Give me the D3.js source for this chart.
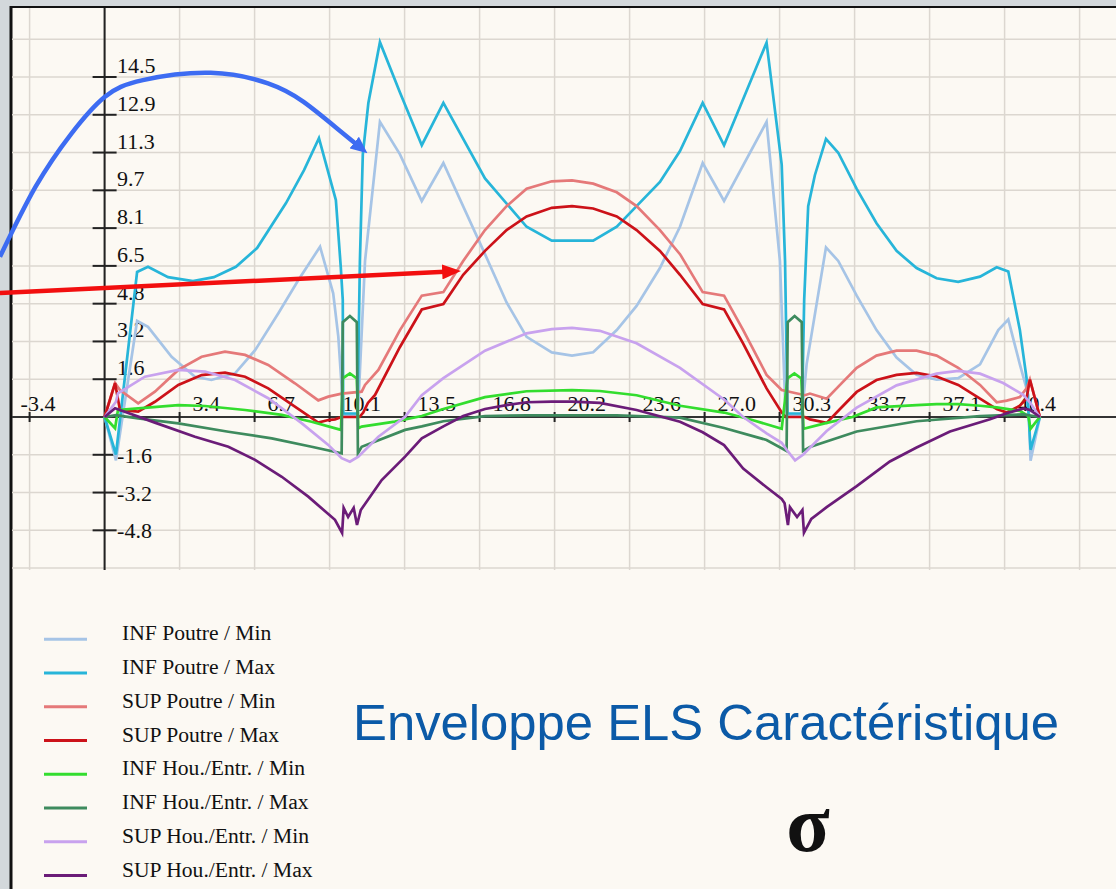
<!DOCTYPE html>
<html>
<head>
<meta charset="utf-8">
<script src="https://cdn.jsdelivr.net/npm/d3@7"></script>
<style>
  body { margin: 0; background: #d3d8db; }
  svg { display: block; }
  .tickText { font-family: "Liberation Serif", "Times New Roman", serif; font-size: 22px; fill: #111; }
  .legendText { font-family: "Liberation Serif", "Times New Roman", serif; font-size: 21.6px; fill: #111; }
</style>
</head>
<body>
<svg id="chart" width="1116" height="889"></svg>
<script>
// Axis ticks
var xTickValues = [-3.3695, 3.3695, 6.739, 10.1085, 13.478, 16.8475, 20.217, 23.5865, 26.956, 30.3255, 33.695, 37.0645, 40.434];
var xTickLabels = ["-3.4", "3.4", "6.7", "10.1", "13.5", "16.8", "20.2", "23.6", "27.0", "30.3", "33.7", "37.1", "40.4"];
var yTickValues = [14.5125, 12.9, 11.2875, 9.675, 8.0625, 6.45, 4.8375, 3.225, 1.6125, -1.6125, -3.225, -4.8375];
var yTickLabels = ["14.5", "12.9", "11.3", "9.7", "8.1", "6.5", "4.8", "3.2", "1.6", "-1.6", "-3.2", "-4.8"];

// Series (x, sigma)
var infPoutreMin = [[0,0],[0.51,-1.85],[1.46,4.1],[1.95,3.85],[3.01,2.57],[4.06,1.72],[4.8,1.58],[5.86,1.86],[6.76,2.85],[7.8,4.42],[8.7,5.84],[9.68,7.27],[10.27,5.28],[10.5,3.43],[10.65,1.29],[10.71,0.1],[11.38,0.1],[11.7,6.66],[12.37,12.6],[13.27,11.21],[14.25,9.22],[15.22,10.84],[17.09,6.95],[18.06,4.89],[18.96,3.42],[20.09,2.76],[21.0,2.62],[21.95,2.76],[23.01,3.71],[23.9,4.74],[24.95,6.36],[25.85,8.12],[26.87,10.84],[27.83,9.22],[29.74,12.6],[30.34,6.66],[30.57,0.78],[30.66,0.1],[31.33,0.1],[31.54,2.26],[32.41,7.24],[32.96,6.66],[33.79,5.18],[34.68,3.71],[35.58,2.54],[36.48,1.8],[37.38,1.59],[38.35,1.66],[39.33,2.25],[40.15,3.71],[40.6,4.16],[41.12,2.25],[41.5,0.93],[41.6,-1.87],[42.02,0]];
var infPoutreMax = [[0,0],[0.51,-1.6],[1.46,6.19],[1.95,6.41],[2.85,5.97],[3.97,5.8],[4.91,5.97],[5.9,6.41],[6.85,7.21],[8.15,9.13],[8.96,10.54],[9.63,11.9],[10.39,9.26],[10.61,6.41],[10.7,5.0],[10.72,0.15],[11.36,0.15],[11.47,6.66],[11.6,11.2],[11.85,13.4],[12.37,16.0],[13.27,13.85],[14.25,11.6],[15.22,13.41],[17.09,10.18],[18.96,8.12],[20.09,7.53],[21.0,7.53],[21.95,7.53],[23.01,8.12],[23.9,9.0],[24.95,10.03],[25.85,11.35],[26.87,13.41],[27.83,11.6],[29.74,15.98],[30.42,10.77],[30.57,6.66],[30.68,0.15],[31.33,0.15],[31.43,5.0],[31.61,9.0],[31.91,10.32],[32.41,11.87],[32.96,11.28],[33.79,9.74],[34.68,8.27],[35.58,7.09],[36.48,6.36],[37.38,5.92],[38.35,5.77],[39.33,5.99],[40.08,6.39],[40.6,6.21],[41.12,3.71],[41.42,1.66],[41.6,-1.4],[42.02,0]];
var supPoutreMin = [[0,0],[0.47,1.45],[0.69,1.15],[1.51,0.58],[2.26,1.08],[3.31,2.01],[4.36,2.57],[5.41,2.79],[6.31,2.65],[7.35,2.22],[8.55,1.44],[9.6,0.71],[10.05,0.87],[10.65,1.0],[11.55,1.08],[11.7,1.37],[12.3,2.01],[13.27,3.71],[14.25,5.18],[15.22,5.33],[16.11,6.66],[17.09,7.98],[18.06,9.0],[18.96,9.74],[20.09,10.06],[21.0,10.1],[21.95,9.96],[23.01,9.59],[23.9,9.0],[24.95,7.98],[25.85,6.95],[26.87,5.33],[27.83,5.18],[28.69,3.71],[29.74,1.8],[30.42,1.15],[31.46,0.93],[31.69,1.0],[32.44,0.78],[33.04,1.37],[33.79,2.1],[34.68,2.62],[35.58,2.83],[36.48,2.83],[37.38,2.62],[38.35,2.1],[39.33,1.37],[40.08,0.63],[40.53,0.7],[41.12,0.85],[41.42,1.22],[41.57,1.6],[42.02,0]];
var supPoutreMax = [[0,0],[0.47,1.45],[0.69,0.3],[1.51,0.23],[2.26,0.65],[3.31,1.37],[4.36,1.79],[5.41,1.89],[6.31,1.72],[7.35,1.22],[8.55,0.44],[9.6,-0.24],[10.05,-0.13],[10.35,-0.1],[10.65,0],[11.45,0],[11.62,0.19],[11.83,0.6],[12.15,0.94],[13.27,2.99],[14.25,4.59],[15.22,4.82],[16.11,6.07],[17.09,7.09],[18.06,7.98],[18.96,8.56],[20.09,8.93],[21.0,9.0],[21.95,8.9],[23.01,8.56],[23.9,7.98],[24.95,7.09],[25.85,6.07],[26.87,4.82],[27.83,4.59],[28.69,3.13],[29.74,1.22],[30.42,0.19],[30.6,0],[31.46,0],[31.69,-0.1],[32.44,-0.25],[33.04,0.34],[33.79,1.07],[34.68,1.58],[35.58,1.8],[36.48,1.88],[37.38,1.73],[38.35,1.37],[39.33,0.78],[40.08,0.34],[40.53,0.19],[41.12,0.48],[41.42,0.78],[41.57,1.6],[42.02,0]];
var infHouMin = [[0,0],[0.47,-0.48],[0.6,0.3],[1.51,0.37],[3.31,0.51],[4.51,0.47],[6.31,0.3],[7.96,0.09],[9.3,-0.2],[10.62,-0.55],[10.7,1.65],[11.02,1.86],[11.33,1.65],[11.4,-0.48],[11.55,-0.41],[13.04,-0.2],[13.5,-0.1],[14.25,0.04],[15.22,0.34],[17.09,0.85],[18.96,1.1],[21.0,1.15],[22.25,1.11],[23.9,0.93],[25.85,0.48],[27.83,0.19],[29.1,-0.13],[30.42,-0.5],[30.68,1.65],[30.99,1.86],[31.3,1.65],[31.4,-0.5],[32.35,-0.27],[33.6,0],[34.68,0.41],[36.48,0.51],[37.38,0.55],[38.35,0.55],[39.33,0.48],[40.08,0.41],[41.12,0.26],[41.5,0.04],[41.6,-0.5],[41.85,-0.2],[42.02,0]];
var infHouMax = [[0,0],[0.51,0.08],[1.51,-0.06],[3.31,-0.27],[5.56,-0.63],[7.51,-0.91],[9.3,-1.27],[10.65,-1.55],[10.7,4.05],[11.02,4.31],[11.33,4.05],[11.38,-1.55],[11.55,-1.27],[13.5,-0.55],[14.25,-0.4],[15.22,-0.18],[17.09,0.04],[18.96,0.07],[21.0,0.07],[23.01,0.07],[25.85,-0.03],[27.83,-0.47],[29.74,-0.98],[30.64,-1.45],[30.69,4.05],[31.0,4.31],[31.32,4.05],[31.38,-1.45],[31.69,-1.28],[33.79,-0.62],[36.48,-0.18],[39.33,0.04],[41.27,0.11],[42.02,0]];
var supHouMin = [[0,0],[0.51,0.65],[0.6,1.01],[1.81,1.72],[3.31,2.01],[4.51,1.94],[5.86,1.58],[7.35,0.8],[8.85,-0.26],[10.05,-1.19],[10.65,-1.76],[11.02,-1.91],[11.4,-1.69],[12.3,-0.84],[13.5,0.01],[14.25,0.93],[15.22,1.66],[17.09,2.83],[18.96,3.57],[20.09,3.75],[21.0,3.8],[22.25,3.68],[23.9,3.15],[25.85,2.1],[27.83,0.75],[28.69,0.0],[29.74,-0.7],[30.42,-1.1],[30.64,-1.4],[31.02,-1.85],[31.39,-1.6],[32.44,-0.6],[33.79,0.4],[35.58,1.35],[37.38,1.85],[38.35,1.97],[39.33,1.85],[40.37,1.45],[41.27,0.95],[41.57,0.63],[41.87,0.2],[42.02,0]];
var supHouMax = [[0,0],[0.47,0.37],[0.69,0.3],[2.26,-0.24],[4.06,-0.84],[5.56,-1.27],[6.76,-1.83],[7.96,-2.55],[9.15,-3.4],[10.35,-4.39],[10.67,-4.95],[10.74,-3.88],[10.94,-4.27],[11.19,-3.88],[11.34,-4.61],[11.51,-3.97],[12.45,-2.69],[13.5,-1.69],[14.25,-0.91],[15.22,-0.4],[16.11,0.04],[17.09,0.34],[18.06,0.51],[18.96,0.63],[20.09,0.66],[21.0,0.66],[22.25,0.6],[23.9,0.3],[25.85,-0.2],[26.87,-0.65],[27.83,-1.2],[28.69,-2.2],[29.74,-3.0],[30.42,-3.5],[30.55,-3.68],[30.7,-4.61],[30.79,-3.85],[31.11,-4.27],[31.35,-3.97],[31.42,-4.94],[31.75,-4.35],[32.44,-3.85],[33.79,-2.95],[35.28,-1.9],[36.48,-1.3],[37.98,-0.62],[39.78,-0.1],[40.53,0.16],[41.3,0.37],[41.57,0.3],[42.02,0]];

var seriesNames = ["INF Poutre / Min", "INF Poutre / Max", "SUP Poutre / Min", "SUP Poutre / Max",
                   "INF Hou./Entr. / Min", "INF Hou./Entr. / Max", "SUP Hou./Entr. / Min", "SUP Hou./Entr. / Max"];
var seriesData = [infPoutreMin, infPoutreMax, supPoutreMin, supPoutreMax, infHouMin, infHouMax, supHouMin, supHouMax];
var seriesColors = ["#a6c4e6", "#27b5d9", "#e57979", "#cc1219", "#33dd2e", "#3e8b5e", "#c8a2ee", "#6b1c78"];

// Annotation arrows (x, sigma)
var blueArrow = [[-4.7,6.84],[-3.1,9.83],[-1.49,12.1],[0,13.66],[1.72,14.38],[4.77,14.69],[7.34,14.24],[8.94,13.45],[10.54,12.24],[11.6,11.42]];
var redArrow = [[-4.7,5.29],[15.75,6.22]];

var titleText = "Enveloppe ELS Caractéristique";
var sigmaText = "σ";

// Layout
var svg = d3.select("#chart");
var frame = { left: 12, top: 8, right: 1116, bottom: 889, gridBottom: 570 };
var xStep = 3.3695, yStep = 1.6125;

var xScale = d3.scaleLinear().domain([0, 40.434]).range([104.6, 1004.6]);
var yScale = d3.scaleLinear().domain([0, 14.5125]).range([417, 77]);

// Background + border
svg.append("rect").attr("x", 0).attr("y", 0).attr("width", 1116).attr("height", 889).style("fill", "#d3d8db");
svg.append("rect").attr("x", frame.left).attr("y", frame.top)
   .attr("width", frame.right - frame.left).attr("height", frame.bottom - frame.top)
   .style("fill", "#fcf9f3");
svg.append("line").attr("x1", 11).attr("x2", 11).attr("y1", 6).attr("y2", 889)
   .style("stroke", "#111").style("stroke-width", 3);
svg.append("line").attr("x1", 10).attr("x2", 1116).attr("y1", 7).attr("y2", 7)
   .style("stroke", "#111").style("stroke-width", 2);

// Grid
var grid = svg.append("g").attr("class", "grid");
var xGrid = d3.range(-1, 15).map(function(k) { return k * xStep; });
var yGrid = d3.range(-4, 11).map(function(k) { return k * yStep; });
grid.selectAll(".vgrid").data(xGrid).enter().append("line")
    .attr("x1", function(d) { return xScale(d); }).attr("x2", function(d) { return xScale(d); })
    .attr("y1", frame.top).attr("y2", frame.gridBottom)
    .style("stroke", "#dcd7d0").style("stroke-width", 1.5);
grid.selectAll(".hgrid").data(yGrid).enter().append("line")
    .attr("x1", frame.left).attr("x2", frame.right)
    .attr("y1", function(d) { return yScale(d); }).attr("y2", function(d) { return yScale(d); })
    .style("stroke", "#dcd7d0").style("stroke-width", 1.5);

// Axes
var axes = svg.append("g").attr("class", "axes");
axes.append("line").attr("x1", xScale(0)).attr("x2", xScale(0)).attr("y1", frame.top).attr("y2", frame.gridBottom)
    .style("stroke", "#222").style("stroke-width", 2);
axes.append("line").attr("x1", frame.left).attr("x2", frame.right).attr("y1", yScale(0)).attr("y2", yScale(0))
    .style("stroke", "#333").style("stroke-width", 2);

axes.selectAll(".yTick").data(yTickValues).enter().append("line")
    .attr("x1", xScale(0) - 12).attr("x2", xScale(0) + 12)
    .attr("y1", function(d) { return yScale(d); }).attr("y2", function(d) { return yScale(d); })
    .style("stroke", "#222").style("stroke-width", 2);
axes.selectAll(".yTickText").data(yTickValues).enter().append("text")
    .attr("class", "tickText")
    .attr("x", xScale(0) + 12.5)
    .attr("y", function(d) { return yScale(d) + (d < 0 ? 8 : -4); })
    .text(function(d, i) { return yTickLabels[i]; });

axes.selectAll(".xTick").data(xTickValues).enter().append("line")
    .attr("x1", function(d) { return xScale(d); }).attr("x2", function(d) { return xScale(d); })
    .attr("y1", yScale(0) - 5).attr("y2", yScale(0) + 5)
    .style("stroke", "#222").style("stroke-width", 2);
axes.selectAll(".xTickText").data(xTickValues).enter().append("text")
    .attr("class", "tickText")
    .attr("x", function(d) { return xScale(d) + (d < 0 ? -9 : 13); })
    .attr("y", yScale(0) - 6)
    .text(function(d, i) { return xTickLabels[i]; });

// Series
var line = d3.line()
  .x(function(d) { return xScale(d[0]); })
  .y(function(d) { return yScale(d[1]); });

svg.append("g").attr("class", "series")
   .selectAll("path").data(seriesData).enter().append("path")
   .attr("d", line)
   .style("fill", "none")
   .style("stroke", function(d, i) { return seriesColors[i]; })
   .style("stroke-width", 2.7)
   .style("stroke-linejoin", "miter");

// Arrows
var defs = svg.append("defs");
function addMarker(id, color, len, wid) {
  defs.append("marker").attr("id", id)
      .attr("markerUnits", "userSpaceOnUse")
      .attr("viewBox", "0 0 " + len + " " + wid)
      .attr("markerWidth", len).attr("markerHeight", wid)
      .attr("refX", len - 6).attr("refY", wid / 2)
      .attr("orient", "auto")
      .append("path").attr("d", "M0,0 L" + len + "," + (wid / 2) + " L0," + wid + " Z")
      .style("fill", color);
}
addMarker("blueHead", "#3d6cf2", 17, 15);
addMarker("redHead", "#f20f0f", 19, 15);

var curveLine = d3.line()
  .x(function(d) { return xScale(d[0]); })
  .y(function(d) { return yScale(d[1]); })
  .curve(d3.curveNatural);

svg.append("path").datum(blueArrow).attr("d", curveLine)
   .style("fill", "none").style("stroke", "#3d6cf2").style("stroke-width", 4.5)
   .attr("marker-end", "url(#blueHead)");
svg.append("path").datum(redArrow).attr("d", line)
   .style("fill", "none").style("stroke", "#f20f0f").style("stroke-width", 4.5)
   .attr("marker-end", "url(#redHead)");

// Legend
var legend = svg.append("g").attr("class", "legend");
var legendTop = 639.3, legendStep = 33.75;
legend.selectAll(".legendLine").data(seriesNames).enter().append("line")
      .attr("x1", 44).attr("x2", 87)
      .attr("y1", function(d, i) { return legendTop + i * legendStep; })
      .attr("y2", function(d, i) { return legendTop + i * legendStep; })
      .style("stroke", function(d, i) { return seriesColors[i]; })
      .style("stroke-width", 3);
legend.selectAll(".legendText").data(seriesNames).enter().append("text")
      .attr("class", "legendText")
      .attr("x", 122)
      .attr("y", function(d, i) { return legendTop + 1 + i * legendStep; })
      .text(function(d) { return d; });

// Title and symbol
svg.append("text").attr("x", 353).attr("y", 740)
   .style("font-family", "'Liberation Sans', Arial, sans-serif")
   .style("font-size", "50.8px").style("fill", "#0b5aa7")
   .text(titleText);
svg.append("text").attr("x", 808).attr("y", 851).attr("text-anchor", "middle")
   .style("font-family", "'Liberation Serif', 'Times New Roman', serif")
   .style("font-size", "80px").style("font-weight", "bold").style("fill", "#111")
   .text(sigmaText);
</script>
</body>
</html>
